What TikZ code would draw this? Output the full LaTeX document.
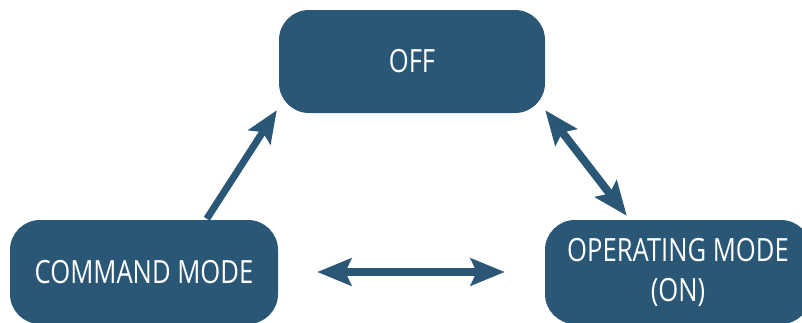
\documentclass[tikz,border=0pt]{standalone}
\usepackage{fontspec}
\setmainfont{Open Sans}[FakeStretch=0.80]
\usetikzlibrary{arrows.meta,calc}
\definecolor{boxblue}{RGB}{41,87,117}
\begin{document}
\begin{tikzpicture}[x=1pt,y=-1pt,
  state/.style={draw=none,fill=boxblue,rounded corners=30pt,text=white,
    font=\fontsize{32}{40}\selectfont,align=center,inner sep=0pt},
  link/.style={draw=boxblue,line width=8pt,
    {Stealth[length=34pt,width=27pt,inset=6pt]}-{Stealth[length=34pt,width=27pt,inset=6pt]}},
  onelink/.style={draw=boxblue,line width=7pt,
    -{Stealth[length=32pt,width=26pt,inset=6pt]}}]
\useasboundingbox (0,0) rectangle (802,322);
\clip (0,0) rectangle (802,322);
\node[state,minimum width=266pt,minimum height=103pt] (off) at (412,61.5) {OFF};
\node[state,minimum width=268pt,minimum height=104pt] (cmd) at (144,272) {COMMAND MODE};
\node[state,minimum width=266pt,minimum height=104pt] (op) at (678,272) {OPERATING MODE\\(ON)};
\coordinate (a1) at ($(cmd.north west)+(197,-1)$);
\coordinate (a2) at ($(off.south west)+(-2,-3)$);
\coordinate (b1) at ($(off.south east)+(0,-3)$);
\coordinate (b2) at ($(op.north west)+(82,-4)$);
\coordinate (c1) at ($(cmd.east)+(39,0)$);
\coordinate (c2) at ($(op.west)+(-40,0)$);
\draw[onelink] (a1) -- (a2);
\draw[link] (b1) -- (b2);
\draw[link] (c1) -- (c2);
\end{tikzpicture}
\end{document}
